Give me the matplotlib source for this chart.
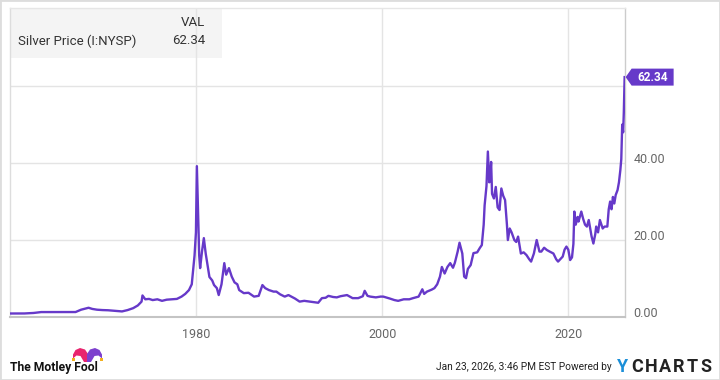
import matplotlib
matplotlib.use("Agg")
import matplotlib.pyplot as plt
from matplotlib.patches import Rectangle, Polygon
from matplotlib.transforms import ScaledTranslation

PURPLE = "#6639c9"
GRID = "#e4e4e4"
TICK = "#666666"

plt.rcParams["font.family"] = ["Roboto", "DejaVu Sans"]

# Silver price (I:NYSP)
years = [
    1960.0, 1961.5, 1962.5, 1963.3, 1965.0, 1967.0, 1967.6, 1968.4, 1968.8, 1969.3,
    1969.9, 1970.5, 1971.0, 1971.6, 1972.0, 1972.6, 1973.2, 1973.7, 1974.1, 1974.2,
    1974.5, 1974.9, 1975.3, 1975.8, 1976.3, 1976.8, 1977.3, 1977.9, 1978.4, 1978.8,
    1979.2, 1979.5, 1979.8, 1979.95, 1980.05, 1980.15, 1980.3, 1980.4, 1980.6, 1980.8,
    1981.0, 1981.4, 1981.7, 1981.9, 1982.2, 1982.4, 1982.7, 1983.0, 1983.2, 1983.5,
    1983.8, 1984.1, 1984.4, 1984.6, 1985.1, 1985.6, 1986.2, 1986.7, 1987.1, 1987.4,
    1987.8, 1988.3, 1988.6, 1989.0, 1989.5, 1989.9, 1990.6, 1991.1, 1991.6, 1992.2,
    1992.8, 1993.1, 1993.5, 1993.9, 1994.2, 1994.7, 1995.1, 1995.5, 1996.2, 1996.8,
    1997.4, 1997.9, 1998.1, 1998.4, 1998.7, 1999.3, 1999.8, 2000.1, 2000.8, 2001.3,
    2001.7, 2002.3, 2002.9, 2003.3, 2003.9, 2004.3, 2004.5, 2004.8, 2005.3, 2005.6,
    2005.9, 2006.2, 2006.4, 2006.7, 2007.0, 2007.3, 2007.6, 2007.8, 2008.1, 2008.3,
    2008.6, 2008.8, 2009.0, 2009.2, 2009.5, 2009.8, 2010.2, 2010.5, 2010.7, 2010.9,
    2011.0, 2011.2, 2011.35, 2011.5, 2011.6, 2011.7, 2011.8, 2012.0, 2012.2, 2012.4,
    2012.6, 2012.8, 2013.0, 2013.2, 2013.4, 2013.5, 2013.7, 2013.9, 2014.2, 2014.4,
    2014.6, 2014.9, 2015.2, 2015.5, 2015.8, 2016.0, 2016.3, 2016.6, 2016.9, 2017.1,
    2017.4, 2017.7, 2018.0, 2018.4, 2018.7, 2018.9, 2019.2, 2019.4, 2019.6, 2019.8,
    2020.0, 2020.2, 2020.4, 2020.55, 2020.65, 2020.8, 2021.0, 2021.1, 2021.3, 2021.4,
    2021.6, 2021.8, 2022.0, 2022.2, 2022.5, 2022.7, 2022.9, 2023.0, 2023.2, 2023.4,
    2023.7, 2023.9, 2024.2, 2024.35, 2024.5, 2024.65, 2024.8, 2024.95, 2025.1, 2025.3,
    2025.45, 2025.6, 2025.7, 2025.75, 2025.8, 2025.9, 2025.97, 2026.02, 2026.06,
]
prices = [
    0.91, 0.92, 1.05, 1.28, 1.29, 1.29, 1.9, 2.4, 2.1, 1.9,
    1.8, 1.75, 1.65, 1.55, 1.45, 1.8, 2.3, 3.0, 4.0, 5.6,
    4.6, 4.7, 4.4, 4.6, 4.2, 4.5, 4.6, 4.7, 5.3, 6.0,
    7.0, 8.5, 16.0, 22.0, 39.2, 30.0, 16.0, 12.7, 17.0, 20.5,
    16.5, 10.4, 9.5, 8.3, 7.5, 5.7, 8.5, 14.0, 11.0, 12.7,
    10.5, 9.0, 8.5, 7.0, 6.2, 6.3, 5.3, 5.5, 8.3, 7.5,
    7.0, 6.6, 6.6, 5.9, 5.3, 5.7, 4.8, 4.0, 4.2, 4.0,
    3.8, 3.7, 4.9, 5.0, 5.5, 5.2, 5.1, 5.4, 5.7, 4.9,
    4.9, 5.4, 6.8, 5.5, 5.3, 5.1, 5.3, 5.3, 4.8, 4.4,
    4.2, 4.6, 4.6, 4.9, 5.3, 7.2, 6.0, 6.6, 7.1, 7.5,
    8.5, 10.5, 13.0, 11.3, 13.0, 14.0, 12.8, 14.1, 17.0, 19.3,
    16.5, 10.5, 10.1, 12.5, 13.5, 16.6, 16.8, 18.0, 18.7, 24.0,
    29.0, 34.0, 43.0, 35.0, 36.4, 40.3, 32.0, 30.8, 33.8, 28.5,
    27.8, 33.4, 31.5, 30.4, 24.0, 20.0, 23.0, 22.0, 20.0, 19.5,
    20.9, 16.5, 16.8, 16.1, 15.0, 14.4, 16.5, 20.0, 17.0, 17.0,
    18.0, 17.4, 17.0, 16.5, 15.0, 14.4, 15.2, 15.7, 17.5, 18.3,
    17.5, 14.8, 15.5, 19.0, 27.4, 24.0, 26.0, 24.8, 26.5, 27.4,
    25.5, 24.0, 23.5, 25.2, 21.0, 19.1, 21.5, 23.5, 22.0, 25.2,
    23.0, 23.5, 23.5, 28.0, 30.0, 28.0, 31.2, 29.5, 31.7, 33.0,
    35.0, 38.2, 41.0, 46.0, 50.0, 48.0, 53.0, 58.0, 62.34,
]

x_ticks = [1980, 2000, 2020]
y_ticks = [0, 20, 40, 60]
y_labels = ["0.00", "20.00", "40.00", ""]
series_name = "Silver Price (I:NYSP)"
last_value = "62.34"

W, H = 720, 380
fig = plt.figure(figsize=(W / 100, H / 100), dpi=100)


def fx(px):
    return px / W


def fy(py):
    return 1 - py / H


ax = fig.add_axes([fx(10), fy(317), fx(625) - fx(10), fy(8) - fy(317)])
ax.patch.set_alpha(0)
ax.set_axisbelow(True)

ax.plot(years, prices, color=PURPLE, lw=1.7, solid_joinstyle="round", zorder=3)

ax.set_xlim(1959.95, 2026.1)
ax.set_ylim(0, 80.3)
ax.set_xticks(x_ticks)
ax.set_xticklabels([str(t) for t in x_ticks])
ax.set_yticks(y_ticks)
ax.set_yticklabels(y_labels)
ax.yaxis.tick_right()
ax.tick_params(axis="both", length=0, labelsize=9, labelcolor=TICK)
ax.tick_params(axis="x", pad=8)
ax.tick_params(axis="y", pad=6)
for lab in ax.get_yticklabels():
    lab.set_va("baseline")
ax.grid(True, color=GRID, lw=1)

for side, col, lw in [("left", "#dddddd", 1), ("top", "#e6e6e6", 1),
                      ("right", "#cccccc", 1), ("bottom", "#c4c4c4", 1.5)]:
    ax.spines[side].set_color(col)
    ax.spines[side].set_linewidth(lw)

# legend box
ax.add_patch(Rectangle((fx(10), fy(58)), fx(222) - fx(10), fy(8) - fy(58),
                       transform=fig.transFigure, facecolor="#f4f4f4",
                       edgecolor="none", zorder=0, clip_on=False))
fig.text(fx(205), fy(22), "VAL", ha="right", va="center", fontsize=9.5, color="#333333")
fig.text(fx(18), fy(41), series_name, ha="left", va="center", fontsize=9.5, color="#333333")
fig.text(fx(205), fy(41), last_value, ha="right", va="center", fontsize=9.5, color="#333333")

# value flag at the last point
flag = fig.dpi_scale_trans + ScaledTranslation(years[-1], prices[-1], ax.transData)
ax.add_patch(Polygon([(0.01, 0), (0.07, 0.085), (0.49, 0.085), (0.49, -0.085), (0.07, -0.085)],
                     closed=True, transform=flag, facecolor=PURPLE, edgecolor="none",
                     clip_on=False, zorder=5))
ax.text(0.28, -0.005, last_value, transform=flag, ha="center", va="center",
        fontsize=8.5, fontweight="bold", color="white", zorder=6, clip_on=False)

# footer: Motley Fool logo
fig.text(fx(10), fy(368), "The Motley Fool", ha="left", va="center", fontsize=8.7,
         fontweight="bold", color="#111111")
left_horn = [(88, 362), (88, 354), (85, 349.5), (80, 348), (75.5, 350), (73, 354.5),
             (73, 358.5), (76.5, 355.5), (80.5, 356), (84, 362)]
right_horn = [(175 - x, y) for x, y in left_horn]
for pts, col in [(left_horn, "#e8246e"), (right_horn, "#7d3fce")]:
    fig.add_artist(Polygon([(fx(x), fy(y)) for x, y in pts], closed=True,
                           transform=fig.transFigure, facecolor=col, edgecolor="none"))
for cx in (73.5, 101.5):
    fig.add_artist(Rectangle((fx(cx - 1.5), fy(361)), fx(3), 3 / H,
                             transform=fig.transFigure, facecolor="#f2b01e", edgecolor="none"))

# footer: timestamp + YCharts
fig.text(fx(612), fy(367), "Jan 23, 2026, 3:46 PM EST Powered by", ha="right", va="center",
         fontsize=7.3, color="#222222")
letters = "YCHARTS"
letter_x = [617, 631, 645, 659, 673, 687, 700]
for ch, lx in zip(letters, letter_x):
    fig.text(fx(lx), fy(367), ch, ha="left", va="center", fontsize=13, fontweight="bold",
             color="#1b8fd8" if ch == "Y" else "#222222")

# outer frame
fig.add_artist(Rectangle((0, 0), 1, 1, transform=fig.transFigure, fill=False,
                         edgecolor="#dddddd", lw=2))

fig.savefig("out.png", dpi=100)
